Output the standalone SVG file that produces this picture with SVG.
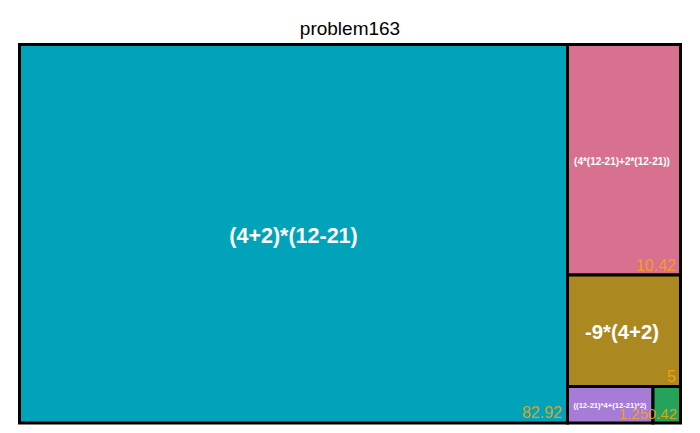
<svg xmlns="http://www.w3.org/2000/svg" width="700" height="433" viewBox="0 0 700 433">
<style>
.tile{stroke:#000;stroke-width:3}
.lbl{font-family:"Liberation Sans",Arial,sans-serif;font-weight:bold;fill:#fff;text-anchor:middle}
.val{font-family:"Liberation Sans",Arial,sans-serif;fill:#FFA500;fill-opacity:0.85;text-anchor:end}
.title{font-family:"Liberation Sans",Arial,sans-serif;fill:#000;text-anchor:middle;font-size:19px}
</style>
<rect width="700" height="433" fill="#fff"/>
<text class="title" x="350" y="35">problem163</text>
<g id="node-a">
<rect class="tile" x="19.5" y="44.5" width="548" height="378.5" fill="#00A3BA"/>
<text class="lbl" x="293.5" y="243" font-size="21.5">(4+2)*(12-21)</text>
<text class="val" x="562" y="418" font-size="16">82.92</text>
</g>
<g id="node-b">
<rect class="tile" x="567.5" y="44.5" width="113" height="230.5" fill="#D7718F"/>
<text class="lbl" x="622" y="164.5" font-size="10">(4*(12-21)+2*(12-21))</text>
<text class="val" x="676" y="271" font-size="16">10.42</text>
</g>
<g id="node-c">
<rect class="tile" x="567.5" y="275" width="113" height="111.5" fill="#AC8920"/>
<text class="lbl" x="622" y="339" font-size="20.3">-9*(4+2)</text>
<text class="val" x="676" y="382" font-size="16">5</text>
</g>
<g id="node-d">
<rect class="tile" x="567.5" y="386.5" width="85.5" height="36.5" fill="#A77CD6"/>
<text class="lbl" x="610" y="408" font-size="7.6">((12-21)*4+(12-21)*2)</text>
</g>
<g id="node-e">
<rect class="tile" x="653" y="386.5" width="27.5" height="36.5" fill="#26A35A"/>
</g>
<g id="values-small">
<text class="val" x="648" y="419" font-size="15">1.25</text>
<text class="val" x="677" y="419" font-size="15">0.42</text>
</g>
<g id="connectors"></g>
</svg>
